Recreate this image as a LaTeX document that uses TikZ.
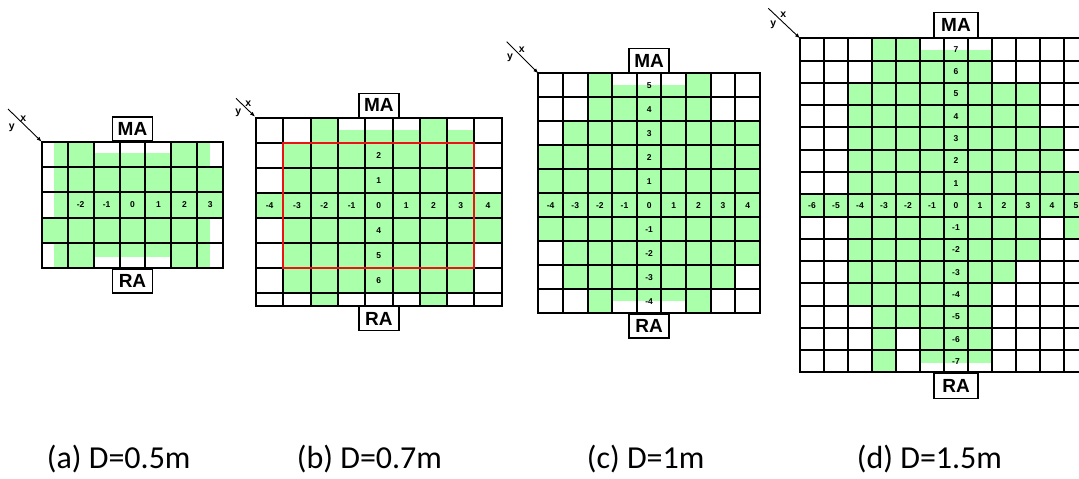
\documentclass[tikz,border=0pt]{standalone}
\usepackage{fontspec}
\setmainfont{Carlito}
\setsansfont{Liberation Sans}
\usetikzlibrary{arrows.meta}
\definecolor{gfill}{RGB}{170,255,170}
\definecolor{redline}{RGB}{235,20,20}
\newcommand\gfil[3]{\fill[gfill] ({\gX+(#1-1)*\gW},{\gY+(#3-1)*\gH}) rectangle ({\gX+#2*\gW},{\gY+#3*\gH});}
\newcommand\gpart[4]{\fill[gfill] ({\gX+(#1-1)*\gW},{#3}) rectangle ({\gX+#2*\gW},{#4});}
\newcommand\glines[2]{%
  \foreach \i in {0,...,#1} \draw[gl] ({round(\gX+\i*\gW)},{round(\gY)}) -- ({round(\gX+\i*\gW)},{round(\gY+#2*\gH)});
  \foreach \j in {0,...,#2} \draw[gl] ({round(\gX)},{round(\gY+\j*\gH)}) -- ({round(\gX+#1*\gW)},{round(\gY+\j*\gH)});}
\newcommand\glab[3]{\node[cl] (\gP-#1-#2) at ({\gX+(#1-0.5)*\gW},{\gY+(#2-0.5)*\gH}) {#3};}
\begin{document}
\begin{tikzpicture}[x=1pt,y=-1pt,
  gl/.style={line width=1.3pt,black,line cap=rect},
  cl/.style={font=\sffamily\bfseries\fontsize{8.5}{10}\selectfont,inner sep=0pt},
  lbox/.style={draw,line width=1.3pt,fill=white,minimum width=40pt,minimum height=24pt,inner sep=0pt,font=\sffamily\bfseries\fontsize{19}{21}\selectfont},
  axl/.style={font=\sffamily\bfseries\fontsize{10.5}{12}\selectfont,inner sep=0pt},
  axa/.style={line width=0.9pt,-{Latex[length=5pt,width=4pt]}},
  captext/.style={font=\fontsize{32}{36}\selectfont,inner sep=0pt,anchor=base west}]
\useasboundingbox (0,0) rectangle (1079,479);
\fill[white] (0,0) rectangle (1079,479);

% ---------------- (a)
\def\gX{41.7}\def\gY{141.7}\def\gW{25.94}\def\gH{25.32}\def\gP{a}
\fill[gfill] (54,141.7) rectangle ({\gX+2*\gW},268.3);
\fill[gfill] ({\gX+2*\gW},153.3) rectangle ({\gX+5*\gW},256.7);
\fill[gfill] ({\gX+5*\gW},141.7) rectangle (210,268.3);
\fill[gfill] (209.5,{\gY+\gH}) rectangle ({\gX+7*\gW},{\gY+3*\gH});
\fill[gfill] (41.7,{\gY+3*\gH}) rectangle (54.5,{\gY+4*\gH});
\glines{7}{5}
\foreach \c [evaluate=\c as \v using int(\c-4)] in {2,...,7} {\glab{\c}{3}{\v}}
\node[lbox,anchor=south] (a-MA) at ({\gX+3.5*\gW},{\gY}) {MA};
\node[lbox,anchor=north] (a-RA) at ({\gX+3.5*\gW},{\gY+5*\gH}) {RA};
\coordinate (a-ax0) at (8,109);
\coordinate (a-ax1) at (41.7,141.7);
\draw[axa] (a-ax0) -- (a-ax1);
\node[axl] (a-x) at (23.3,118.3) {x};
\node[axl] (a-y) at (11.7,127.7) {y};

% ---------------- (b)
\def\gX{256}\def\gY{117.7}\def\gW{27.3}\def\gH{25}\def\gP{b}
\gfil{3}{3}{1}\gfil{7}{7}{1}
\gpart{4}{6}{130}{142.7}\gpart{8}{8}{130}{142.7}
\gfil{2}{8}{2}\gfil{2}{8}{3}
\gfil{1}{9}{4}
\gfil{2}{9}{5}
\gfil{2}{8}{6}\gfil{2}{8}{7}
\gpart{3}{3}{292.7}{305.7}\gpart{7}{7}{292.7}{305.7}
\foreach \i in {0,...,9} \draw[gl] ({round(\gX+\i*\gW)},118) -- ({round(\gX+\i*\gW)},306);
\foreach \j in {0,...,7} \draw[gl] ({\gX},{round(\gY+\j*\gH)}) -- ({round(\gX+9*\gW)},{round(\gY+\j*\gH)});
\draw[gl] ({\gX},306) -- ({round(\gX+9*\gW)},306);
\draw[redline,line width=2pt] ({round(\gX+\gW)},{round(\gY+\gH)}) rectangle ({round(\gX+8*\gW)},{round(\gY+6*\gH)});
\foreach \c [evaluate=\c as \v using int(\c-5)] in {1,...,9} {\glab{\c}{4}{\v}}
\glab{5}{2}{2}\glab{5}{3}{1}\glab{5}{5}{4}\glab{5}{6}{5}\glab{5}{7}{6}
\node[lbox,anchor=south] (b-MA) at ({\gX+4.5*\gW},118) {MA};
\node[lbox,anchor=north] (b-RA) at ({\gX+4.5*\gW},306) {RA};
\coordinate (b-ax0) at (236,98.3);
\coordinate (b-ax1) at (255,116.7);
\draw[axa] (b-ax0) -- (b-ax1);
\node[axl] (b-x) at (248.3,104) {x};
\node[axl] (b-y) at (238.3,112.7) {y};

% ---------------- (c)
\def\gX{538.3}\def\gY{73.3}\def\gW{24.63}\def\gH{24}\def\gP{c}
\gfil{3}{3}{1}\gfil{7}{7}{1}\gpart{4}{6}{85}{97.3}
\gfil{3}{7}{2}
\gfil{2}{9}{3}
\foreach \r in {4,...,7} {\gfil{1}{9}{\r}}
\gfil{2}{9}{8}
\gfil{2}{8}{9}
\gfil{3}{3}{10}\gfil{7}{7}{10}\gpart{4}{6}{289.3}{300.7}
\glines{9}{10}
\foreach \r [evaluate=\r as \v using int(6-\r)] in {1,...,10} {\glab{5}{\r}{\v}}
\foreach \c [evaluate=\c as \v using int(\c-5)] in {1,2,3,4,6,7,8,9} {\glab{\c}{6}{\v}}
\node[lbox,anchor=south] (c-MA) at ({\gX+4.5*\gW},{\gY}) {MA};
\node[lbox,anchor=north] (c-RA) at ({\gX+4.5*\gW},{\gY+10*\gH}) {RA};
\coordinate (c-ax0) at (506.7,41.7);
\coordinate (c-ax1) at (538.3,73.3);
\draw[axa] (c-ax0) -- (c-ax1);
\node[axl] (c-x) at (521.7,50) {x};
\node[axl] (c-y) at (510,58.3) {y};

% ---------------- (d)
\begin{scope}
\clip (0,0) rectangle (1079,479);
\def\gX{800}\def\gY{38.3}\def\gW{24}\def\gH{22.28}\def\gP{d}
\gfil{4}{5}{1}\gpart{6}{8}{50}{60.6}
\gfil{4}{8}{2}
\gfil{3}{10}{3}\gfil{3}{10}{4}
\gfil{3}{11}{5}\gfil{3}{11}{6}
\gfil{3}{12}{7}
\gfil{1}{13}{8}
\gfil{3}{10}{9}\gfil{12}{12}{9}
\gfil{3}{10}{10}
\gfil{3}{9}{11}
\gfil{3}{8}{12}
\gfil{4}{8}{13}
\gfil{4}{4}{14}\gfil{6}{8}{14}
\gfil{4}{4}{15}\gpart{6}{8}{350.5}{363.3}
\glines{13}{15}
\foreach \r [evaluate=\r as \v using int(8-\r)] in {1,...,15} {\glab{7}{\r}{\v}}
\foreach \c [evaluate=\c as \v using int(\c-7)] in {1,...,6,8,9,10,11,12,13} {\glab{\c}{8}{\v}}
\node[lbox,anchor=south,minimum width=44pt,minimum height=25pt] (d-MA) at ({\gX+6.5*\gW},{\gY}) {MA};
\node[lbox,anchor=north,minimum width=44pt,minimum height=25pt] (d-RA) at ({\gX+6.5*\gW},{\gY+15*\gH}) {RA};
\end{scope}
\coordinate (d-ax0) at (768.3,8.3);
\coordinate (d-ax1) at (800,38.3);
\draw[axa] (d-ax0) -- (d-ax1);
\node[axl] (d-x) at (783.3,15) {x};
\node[axl] (d-y) at (773.3,25) {y};

% ---------------- captions
\node[captext] (capa) at (46.7,468) {(a) D=0.5m};
\node[captext] (capb) at (296.7,468) {(b) D=0.7m};
\node[captext] (capc) at (586.7,468) {(c) D=1m};
\node[captext] (capd) at (856.7,468) {(d) D=1.5m};
\end{tikzpicture}
\end{document}
